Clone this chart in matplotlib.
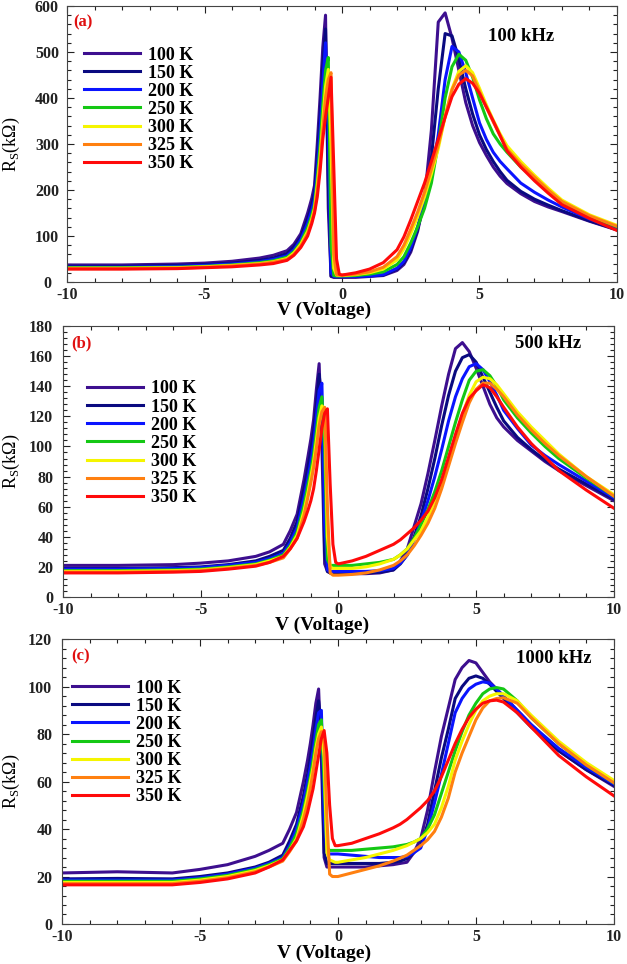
import matplotlib
matplotlib.use('Agg')
import matplotlib.pyplot as plt
from matplotlib.ticker import MultipleLocator, AutoMinorLocator

plt.rcParams['font.family'] = ['Liberation Serif', 'DejaVu Serif']
plt.rcParams['mathtext.fontset'] = 'custom'
plt.rcParams['mathtext.rm'] = 'Liberation Serif'
plt.rcParams['axes.unicode_minus'] = False

# voltage grid (V), shared by all three panels
volts = [-10, -8, -6, -5, -4, -3, -2.5, -2,
         -1.75, -1.5, -1.25, -1.1, -1, -0.9, -0.8, -0.7, -0.6, -0.5, -0.4, -0.3, -0.2, -0.1,
         0, 0.5, 1, 1.5, 2, 2.25, 2.5, 2.75, 3,
         3.25, 3.5, 3.75, 4, 4.25, 4.5, 4.75, 5, 5.25, 5.5, 5.75, 6, 6.5, 7, 7.5, 8, 9, 10]

temps = ['100 K', '150 K', '200 K', '250 K', '300 K', '325 K', '350 K']
colors = ['#3d0f8f', '#0a0a80', '#0a14ff', '#14c814', '#f5f500', '#ff8010', '#ff0a0a']

# (a) 100 kHz, Rs in kOhm
a_100 = [37, 37, 39, 41, 45, 52, 58, 68,
         82, 105, 150, 182, 210, 300, 400, 510, 580, 160, 12, 10, 10, 10,
         10, 10, 12, 14, 25, 38, 65, 110, 180,
         330, 565, 585, 530, 460, 390, 340, 303, 275, 250, 230, 214, 192, 175, 163, 153, 132, 113]
a_150 = [34, 34, 36, 38, 41, 47, 52, 62,
         76, 98, 138, 168, 195, 270, 360, 470, 550, 220, 13, 11, 11, 11,
         11, 12, 13, 15, 28, 42, 70, 115, 175,
         270, 420, 540, 535, 485, 420, 365, 320, 288, 262, 240, 221, 197, 180, 167, 155, 133, 114]
a_200 = [32, 32, 34, 36, 39, 44, 49, 57,
         70, 92, 128, 156, 180, 245, 325, 430, 520, 330, 20, 12, 12, 12,
         12, 12, 13, 16, 30, 45, 75, 120, 175,
         230, 320, 440, 512, 500, 455, 400, 346, 310, 282, 262, 246, 215, 195, 178, 163, 137, 116]
a_250 = [31, 31, 32, 34, 37, 42, 46, 54,
         66, 86, 118, 145, 168, 225, 295, 385, 460, 488, 80, 14, 13, 13,
         13, 14, 17, 22, 38, 55, 85, 120, 160,
         215, 300, 400, 468, 495, 482, 445, 396, 355, 322, 300, 282, 250, 225, 199, 175, 143, 120]
a_300 = [30, 30, 31, 33, 36, 40, 44, 51,
         63, 82, 110, 137, 160, 210, 270, 350, 425, 462, 300, 30, 15, 14,
         14, 16, 20, 28, 48, 72, 105, 142, 185,
         235, 290, 360, 420, 458, 470, 455, 421, 385, 352, 322, 296, 262, 232, 204, 178, 146, 123]
a_325 = [29, 29, 30, 32, 35, 39, 43, 49,
         60, 78, 105, 132, 155, 198, 255, 330, 400, 440, 455, 60, 16, 15,
         15, 17, 22, 32, 55, 80, 115, 152, 195,
         245, 298, 360, 418, 450, 460, 448, 414, 380, 348, 318, 289, 256, 228, 200, 175, 144, 121]
a_350 = [28, 28, 29, 31, 33, 37, 40, 47,
         58, 75, 100, 127, 150, 185, 240, 310, 360, 400, 445, 250, 50, 17,
         15, 20, 28, 42, 70, 98, 135, 175, 215,
         262, 310, 358, 403, 430, 442, 432, 410, 380, 350, 318, 285, 250, 220, 193, 168, 138, 112]

# (b) 500 kHz
b_100 = [21, 21, 21.5, 22.5, 24, 27, 30, 35,
         44, 55, 78, 94, 105, 118, 138, 155, 100, 22, 17, 16, 15.5, 15.5,
         15.5, 15.5, 15.5, 16, 18, 24, 32, 47, 62,
         82, 104, 127, 148, 165, 169, 163, 152, 140, 128, 119, 113, 104, 97, 90, 84, 74, 64]
b_150 = [19, 19, 19.5, 20, 21.5, 24, 27, 31,
         39, 50, 72, 87, 98, 110, 128, 148, 130, 30, 17, 16, 16, 16,
         16, 16, 16, 16.5, 18, 22, 28, 40, 54,
         72, 92, 114, 134, 150, 159, 161, 156, 146, 136, 126, 117, 106, 98, 91, 85, 75, 65]
b_200 = [18.5, 18.5, 19, 19.5, 21, 23, 25.5, 29,
         36, 46, 66, 80, 90, 102, 120, 137, 142, 50, 18, 17, 17, 17,
         17, 17, 17, 17.5, 19, 22.5, 28, 38, 50,
         64, 80, 98, 117, 133, 145, 153, 155, 151, 143, 134, 124, 112, 101, 94, 88, 77, 66]
b_250 = [17.5, 17.5, 18, 18.5, 20, 22, 24.5, 28,
         34, 43, 61, 75, 84, 95, 110, 126, 133, 100, 25, 21, 21, 21,
         21, 21, 22, 23, 25, 28, 32, 39, 48,
         58, 70, 84, 100, 116, 131, 144, 150, 151, 147, 140, 131, 119, 109, 100, 92, 79, 67]
b_300 = [17, 17, 17.5, 18, 19.5, 21.5, 24, 27,
         33, 41, 57, 70, 80, 90, 104, 119, 127, 125, 40, 20, 19, 19,
         19, 19, 20, 22, 25, 28, 32, 38, 44,
         53, 64, 77, 91, 106, 121, 134, 143, 146, 145, 141, 135, 123, 113, 104, 95, 80, 68]
b_325 = [16.5, 16.5, 17, 17.5, 19, 21, 23, 26,
         32, 39, 54, 67, 76, 86, 99, 114, 123, 126, 60, 16, 14.5, 14.5,
         14.5, 15, 16, 18, 21, 24, 28, 34, 41,
         49, 59, 72, 87, 102, 116, 129, 138, 142, 142, 138, 133, 121, 111, 102, 94, 80, 67]
b_350 = [16, 16, 16.5, 17, 18.5, 20.5, 23, 27,
         32, 39, 50, 58, 64, 72, 84, 98, 112, 122, 125, 75, 35, 23,
         22, 24, 27, 31, 35, 38, 42, 46, 51,
         57, 66, 78, 93, 108, 122, 132, 137, 141, 139, 133, 126, 113, 102, 93, 84, 71, 59]

# (c) 1000 kHz
c_100 = [21.5, 22, 21.5, 23, 25, 28.5, 31, 34,
         40, 47, 60, 69, 76, 84, 93, 99, 70, 28, 24, 24, 24, 24,
         24, 24, 24, 24.5, 25, 25.5, 26, 30, 36,
         48, 64, 79, 91, 103, 108, 111, 110, 106, 102, 99, 96, 90, 84, 78.5, 73, 65, 58]
c_150 = [19, 19.2, 19, 20, 21.5, 24, 26, 29,
         35, 42, 54, 63, 70, 78, 87, 94, 82, 30, 25.5, 25.5, 25.5, 25.5,
         25.5, 25.5, 25.5, 25.5, 26, 26.5, 27.5, 30, 33,
         42, 56, 70, 82, 95, 100, 103.5, 104.5, 103.5, 101, 98, 95, 89, 83, 78, 73, 65, 58.5]
c_200 = [18.5, 18.5, 18.5, 19.5, 21, 23.5, 25.5, 28,
         33, 40, 51, 60, 66, 73, 82, 89, 90, 45, 30, 29.5, 29.5, 29.5,
         29.5, 29, 28.5, 28, 28, 28, 28.5, 30, 32,
         40, 51, 63, 76, 89, 95, 99, 101, 102, 101.5, 99, 96, 90, 84, 79, 74, 66, 59]
c_250 = [18, 18, 18, 19, 20.5, 23, 25, 27.5,
         32, 38, 48, 56, 62, 69, 77, 84, 86, 60, 32, 31, 31, 31,
         31, 31, 31.5, 32, 32.5, 33, 33.5, 34.5, 36,
         40, 46, 55, 64, 73, 81, 88, 93, 97, 99, 99.6, 99, 94, 87, 81.5, 76, 67, 59.5]
c_300 = [17.5, 17.5, 17.5, 18.5, 20, 22.5, 24.5, 27,
         31, 36, 46, 54, 60, 66, 74, 80, 83, 70, 30, 27, 26.5, 26,
         26, 27, 28, 29.5, 31, 32, 33, 34.5, 36,
         38.5, 42, 49, 58, 69, 77, 84, 90, 94, 96, 97, 97, 94, 88, 82.5, 77, 68, 60.5]
c_325 = [17, 17, 17, 18, 19.5, 22, 24, 26.5,
         30.5, 35, 44, 51, 57, 64, 72, 78, 81, 78, 45, 21, 20, 20,
         20, 21.5, 23, 24.5, 26.5, 27.7, 29, 31, 33,
         35.5, 39, 45, 53, 64, 72, 79, 86, 91, 94, 95, 95.3, 93, 87, 81.5, 76, 67, 59.5]
c_350 = [16.5, 16.5, 16.5, 17.5, 19, 21.5, 24, 27,
         31, 35, 41, 47, 52, 57, 64, 71, 78, 81.5, 72, 50, 36, 33,
         33, 34, 36, 38, 40.5, 42, 44, 46.5, 49,
         52, 56, 62, 69, 76, 82, 87, 90.5, 93, 94, 94.3, 93.5, 89, 83, 77, 71, 62, 54]

panels = [
    ('(a)', '100 kHz', [a_100, a_150, a_200, a_250, a_300, a_325, a_350], 600, 100),
    ('(b)', '500 kHz', [b_100, b_150, b_200, b_250, b_300, b_325, b_350], 180, 20),
    ('(c)', '1000 kHz', [c_100, c_150, c_200, c_250, c_300, c_325, c_350], 120, 20),
]

# axes boxes in figure fraction [left, bottom, width, height]
boxes = [[0.107, 0.7075, 0.877, 0.2863],
         [0.1005, 0.3807, 0.8785, 0.2811],
         [0.0989, 0.0415, 0.8801, 0.2955]]
legend_pos = [(0.031, 0.853), (0.043, 0.799), (0.018, 0.858)]
freq_pos = [(0.765, 0.888), (0.82, 0.934), (0.822, 0.933)]
tag_pos = [(0.011, 0.942), (0.0145, 0.937), (0.016, 0.94)]
xlab_pos = [(0.467, -0.102), (0.47, -0.104), (0.475, -0.104)]
ylab_x = [-0.082, -0.075, -0.073]
# (a) has its y numbers centred, (b) and (c) right-aligned further from the axis
ytick_style = [('center', 14.5), ('right', 7), ('right', 7)]

fig = plt.figure(figsize=(6.27, 9.64), dpi=100)

for i, (tag, freq, series, ymax, ymajor) in enumerate(panels):
    ax = fig.add_axes(boxes[i])
    for lbl, col, ys in zip(temps, colors, series):
        ax.plot(volts, ys, color=col, lw=2.2, label=lbl, solid_joinstyle='round')

    ax.set_xlim(-10, 10)
    ax.set_ylim(0, ymax)
    ax.xaxis.set_major_locator(MultipleLocator(5))
    ax.xaxis.set_minor_locator(AutoMinorLocator(5))
    ax.yaxis.set_major_locator(MultipleLocator(ymajor))
    ax.yaxis.set_minor_locator(AutoMinorLocator(5))
    ax.tick_params(which='both', direction='in', top=True, right=True, width=0.8, colors='#222222')
    ax.tick_params(which='major', length=5, labelsize=11.5)
    ax.tick_params(axis='y', which='major', pad=ytick_style[i][1])
    ax.tick_params(which='minor', length=3)
    for t in ax.get_xticklabels() + ax.get_yticklabels():
        t.set_fontweight('bold')
    for t in ax.get_yticklabels():
        t.set_ha(ytick_style[i][0])
    for s in ax.spines.values():
        s.set_linewidth(0.8)
        s.set_color('#444444')

    ax.set_xlabel('V (Voltage)', fontsize=14, fontweight='bold')
    ax.xaxis.set_label_coords(*xlab_pos[i])
    ax.xaxis.label.set_va('center')
    ax.set_ylabel(r'R$_\mathregular{S}$(k$\mathregular{\Omega}$)', fontsize=13)
    ax.yaxis.set_label_coords(ylab_x[i], 0.5)

    ax.text(*tag_pos[i], tag, transform=ax.transAxes, color='#e01010', fontsize=12,
            fontweight='bold', ha='left', va='center')
    ax.text(*freq_pos[i], freq, transform=ax.transAxes, fontsize=13.5,
            fontweight='bold', ha='left', va='center')

    ax.legend(loc='upper left', bbox_to_anchor=legend_pos[i], frameon=False, borderpad=0,
              borderaxespad=0, handlelength=3.1, handletextpad=0.45, labelspacing=0.06,
              prop={'weight': 'bold', 'size': 13})

fig.savefig('out.png', dpi=100)
